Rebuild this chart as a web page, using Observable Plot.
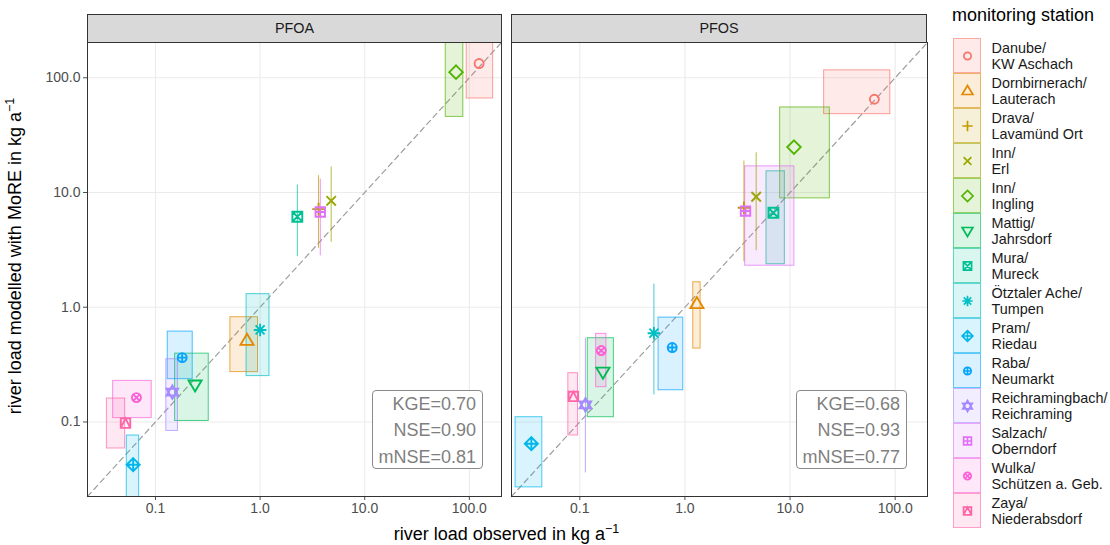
<!DOCTYPE html>
<html>
<head>
<meta charset="utf-8">
<script src="https://cdn.jsdelivr.net/npm/d3@7"></script>
<script src="https://cdn.jsdelivr.net/npm/@observablehq/plot@0.6"></script>
<style>
  body { margin: 0; background: #fff; font-family: "Liberation Sans", Arial, sans-serif; }
  #wrap { position: relative; width: 1110px; height: 545px; overflow: hidden; background: #fff; }
  #wrap > svg, #wrap > div { position: absolute; }
  .strip { top: 14px; height: 29px; box-sizing: border-box; background: #D9D9D9; border: 1px solid #333;
           font-size: 14.4px; color: #1A1A1A; text-align: center; line-height: 27px; }
  .stats { box-sizing: border-box; width: 111px; height: 79px; border: 1px solid #8A8A8A; border-radius: 4px;
           background: #fff; color: #7F7F7F; font-size: 18px; line-height: 26.5px; text-align: right; padding-right: 6px; }
  .title { font-size: 18px; line-height: 18px; color: #000; white-space: nowrap; }
  sup { font-size: 12.5px; vertical-align: 0; position: relative; top: -7px; }
</style>
</head>
<body>
<div id="wrap"></div>
<script>
// ---------------- data ----------------
const stations = [
  "Danube/\nKW Aschach", "Dornbirnerach/\nLauterach", "Drava/\nLavamünd Ort", "Inn/\nErl",
  "Inn/\nIngling", "Mattig/\nJahrsdorf", "Mura/\nMureck", "Ötztaler Ache/\nTumpen",
  "Pram/\nRiedau", "Raba/\nNeumarkt", "Reichramingbach/\nReichraming", "Salzach/\nOberndorf",
  "Wulka/\nSchützen a. Geb.", "Zaya/\nNiederabsdorf"
];
const colours = ["#F8766D","#E38900","#C49A00","#99A800","#53B400","#00BC56","#00C094",
                 "#00BFC4","#00B6EB","#06A4FF","#A58AFF","#DF70F8","#FB61D7","#FF66A8"];
const panels = ["PFOA", "PFOS"];
const axisTicks = [0.1, 1, 10, 100];
const axisDomain = [0.0224, 203];

// PFOA (kg/a): observed point, modelled point, observed range, modelled range
const pfoaObs   = [124, 0.75, 3.62, 4.78, 74.6, 0.239, 2.27, 1.0, 0.0612, 0.18, 0.145, 3.76, 0.0658, 0.0517];
const pfoaMod   = [133, 0.512, 7.17, 8.47, 112, 0.211, 6.15, 0.634, 0.0424, 0.364, 0.182, 6.76, 0.163, 0.0977];
const pfoaObsLo = [94.4, 0.52, 3.62, 4.78, 59.5, 0.154, 2.27, 0.743, 0.0532, 0.131, 0.127, 3.76, 0.0394, 0.0343];
const pfoaObsHi = [169, 0.955, 3.62, 4.78, 87.6, 0.323, 2.27, 1.23, 0.0698, 0.227, 0.164, 3.76, 0.092, 0.0513];
const pfoaModLo = [66, 0.272, 3.26, 3.68, 45.6, 0.102, 2.76, 0.251, 0.015, 0.236, 0.0835, 2.80, 0.108, 0.0587];
const pfoaModHi = [300, 0.818, 14.0, 16.7, 300, 0.394, 11.6, 1.30, 0.0762, 0.613, 0.352, 13.1, 0.228, 0.16];

// PFOS (kg/a)
const pfosObs   = [63.4, 1.30, 3.64, 4.76, 10.9, 0.166, 6.95, 0.507, 0.0346, 0.757, 0.113, 3.77, 0.160, 0.0868];
const pfosMod   = [65, 1.07, 7.36, 9.18, 24.9, 0.273, 6.66, 0.594, 0.0646, 0.445, 0.141, 6.89, 0.419, 0.167];
const pfosObsLo = [21.1, 1.20, 3.64, 4.76, 8.05, 0.119, 5.97, 0.507, 0.0245, 0.561, 0.113, 3.74, 0.143, 0.0778];
const pfosObsHi = [89.9, 1.41, 3.64, 4.76, 23.9, 0.211, 8.92, 0.507, 0.044, 0.964, 0.113, 11.0, 0.179, 0.0962];
const pfosModLo = [48.2, 0.436, 2.49, 3.11, 8.89, 0.110, 2.37, 0.172, 0.0269, 0.189, 0.0359, 2.30, 0.201, 0.0762];
const pfosModHi = [116, 1.65, 18.8, 22.2, 55.1, 0.537, 15.3, 1.59, 0.110, 0.812, 0.537, 16.9, 0.586, 0.266];

const statNames = ["KGE", "NSE", "mNSE"];
const pfoaStats = ["0.70", "0.90", "0.81"];
const pfosStats = ["0.68", "0.93", "0.77"];

// ---------------- ggplot-like shapes ----------------
function shape(fn) { return { draw(c, size) { fn(c, Math.sqrt(size / Math.PI)); } }; }
const seg = (c, a, b, d, e) => { c.moveTo(a, b); c.lineTo(d, e); };
const circ = (c, r) => { c.moveTo(r, 0); c.arc(0, 0, r, 0, 2 * Math.PI); };
const poly = (c, pts) => { c.moveTo(pts[0][0], pts[0][1]); for (let i = 1; i < pts.length; i++) c.lineTo(pts[i][0], pts[i][1]); c.closePath(); };
const sq = (c, s) => poly(c, [[-s,-s],[s,-s],[s,s],[-s,s]]);
const cross = (c, a) => { seg(c, -a, 0, a, 0); seg(c, 0, -a, 0, a); };
const xx = (c, a) => { seg(c, -a, -a, a, a); seg(c, -a, a, a, -a); };
const shapes = [
  shape((c, r) => circ(c, r)),
  shape((c, r) => poly(c, [[0, -1.5*r], [1.45*r, 0.95*r], [-1.45*r, 0.95*r]])),
  shape((c, r) => cross(c, 1.4*r)),
  shape((c, r) => xx(c, 1.05*r)),
  shape((c, r) => poly(c, [[0, -1.5*r], [1.5*r, 0], [0, 1.5*r], [-1.5*r, 0]])),
  shape((c, r) => poly(c, [[0, 1.5*r], [1.45*r, -0.95*r], [-1.45*r, -0.95*r]])),
  shape((c, r) => { sq(c, 1.1*r); xx(c, 1.1*r); }),
  shape((c, r) => { cross(c, 1.4*r); xx(c, r); }),
  shape((c, r) => { const d = 1.45*r; poly(c, [[0,-d],[d,0],[0,d],[-d,0]]); cross(c, d); }),
  shape((c, r) => { circ(c, r); cross(c, r); }),
  shape((c, r) => { poly(c, [[0,-1.5*r],[1.3*r,0.75*r],[-1.3*r,0.75*r]]); poly(c, [[0,1.5*r],[1.3*r,-0.75*r],[-1.3*r,-0.75*r]]); }),
  shape((c, r) => { sq(c, 1.05*r); cross(c, 1.05*r); }),
  shape((c, r) => { circ(c, r); xx(c, 0.72*r); }),
  shape((c, r) => { const s = 1.05*r; sq(c, s); c.moveTo(-s, s); c.lineTo(0, -s); c.lineTo(s, s); })
];

function rowsOf(obs, mod, xLo, xHi, yLo, yHi) {
  return stations.map((s, i) => ({station: s, obs: obs[i], mod: mod[i], xLo: xLo[i], xHi: xHi[i], yLo: yLo[i], yHi: yHi[i]}));
}
const pfoa = rowsOf(pfoaObs, pfoaMod, pfoaObsLo, pfoaObsHi, pfoaModLo, pfoaModHi);
const pfos = rowsOf(pfosObs, pfosMod, pfosObsLo, pfosObsHi, pfosModLo, pfosModHi);

const fmt = d3.format(".1f");
const font = "'Liberation Sans', Arial, sans-serif";

function panel(rows, showY, width, marginLeft, marginRight) {
  const boxes = rows.filter(d => d.xLo !== d.xHi);
  const lines = rows.filter(d => d.xLo === d.xHi);
  return Plot.plot({
    width, height: 545, marginLeft, marginRight, marginTop: 42, marginBottom: 49,
    style: {fontFamily: font, fontSize: "14px", color: "#4D4D4D", background: "transparent"},
    x: {type: "log", domain: axisDomain, ticks: axisTicks, tickFormat: fmt, tickSize: 4, tickPadding: 3, label: null},
    y: {type: "log", domain: axisDomain, ticks: axisTicks, tickFormat: fmt, tickSize: 4, tickPadding: 3, label: null, axis: showY ? "left" : null},
    color: {domain: stations, range: colours},
    symbol: {domain: stations, range: shapes},
    marks: [
      Plot.ruleX(axisTicks, {stroke: "#EBEBEB", strokeWidth: 1.1}),
      Plot.ruleY(axisTicks, {stroke: "#EBEBEB", strokeWidth: 1.1}),
      Plot.line(axisDomain.map(v => ({v})), {x: "v", y: "v", stroke: "#9E9E9E", strokeWidth: 1.2, strokeDasharray: "5.5,4"}),
      Plot.rect(boxes, {x1: "xLo", x2: "xHi", y1: "yLo", y2: "yHi", fill: "station", fillOpacity: 0.15,
                        stroke: "station", strokeOpacity: 0.7, strokeWidth: 1, clip: true}),
      Plot.ruleX(lines, {x: "xLo", y1: "yLo", y2: "yHi", stroke: "station", strokeOpacity: 0.75, strokeWidth: 1, clip: true}),
      Plot.dot(rows, {x: "obs", y: "mod", stroke: "station", symbol: "station", fill: "none", r: 4.5, strokeWidth: 1.9}),
      Plot.frame({stroke: "#333", strokeWidth: 1})
    ]
  });
}

const wrap = document.getElementById("wrap");
function place(el, left, top) { el.style.left = left + "px"; el.style.top = top + "px"; wrap.appendChild(el); return el; }
function div(cls, html) { const d = document.createElement("div"); d.className = cls; d.innerHTML = html; return d; }

// panels
place(panel(pfoa, true, 502, 87, 1), 0, 0);
place(panel(pfos, false, 428, 10, 2), 501, 0);

// strips
const s1 = place(div("strip", panels[0]), 87, 14); s1.style.width = "415px";
const s2 = place(div("strip", panels[1]), 511, 14); s2.style.width = "416px";

// stats boxes
const statHtml = vals => statNames.map((n, i) => `${n}=${vals[i]}`).join("<br>");
place(div("stats", statHtml(pfoaStats)), 372, 389.5);
place(div("stats", statHtml(pfosStats)), 796, 389.5);

// axis titles
const xt = place(div("title", "river load observed in kg a<sup>−1</sup>"), 306.5, 525);
xt.style.width = "400px"; xt.style.textAlign = "center";
const yt = place(div("title", "river load modelled with MoRE in kg a<sup>−1</sup>"), 16.25 - 200, 255 - 9);
yt.style.width = "400px"; yt.style.textAlign = "center"; yt.style.transform = "rotate(-90deg)";

// legend
const lt = place(div("title", "monitoring station"), 952, 6);
const legend = Plot.plot({
  width: 170, height: 545, marginLeft: 13, marginRight: 129, marginTop: 33, marginBottom: 12.5,
  style: {fontFamily: font, fontSize: "14.4px", background: "transparent"},
  y: {domain: stations, axis: null, padding: 0},
  color: {domain: stations, range: colours},
  symbol: {domain: stations, range: shapes},
  marks: [
    Plot.cell(stations, {y: d => d, fill: d => d, fillOpacity: 0.15, stroke: d => d, strokeOpacity: 0.6, inset: 0.5}),
    Plot.dot(stations, {y: d => d, stroke: d => d, symbol: d => d, fill: "none", r: 3.7, strokeWidth: 1.7, frameAnchor: "middle"}),
    Plot.text(stations, {y: d => d, text: d => d, frameAnchor: "right", dx: 10, textAnchor: "start",
                         lineAnchor: "middle", lineHeight: 1.09, fill: "#1A1A1A", fontSize: 14.4})
  ]
});
place(legend, 940, 0);
</script>
</body>
</html>
